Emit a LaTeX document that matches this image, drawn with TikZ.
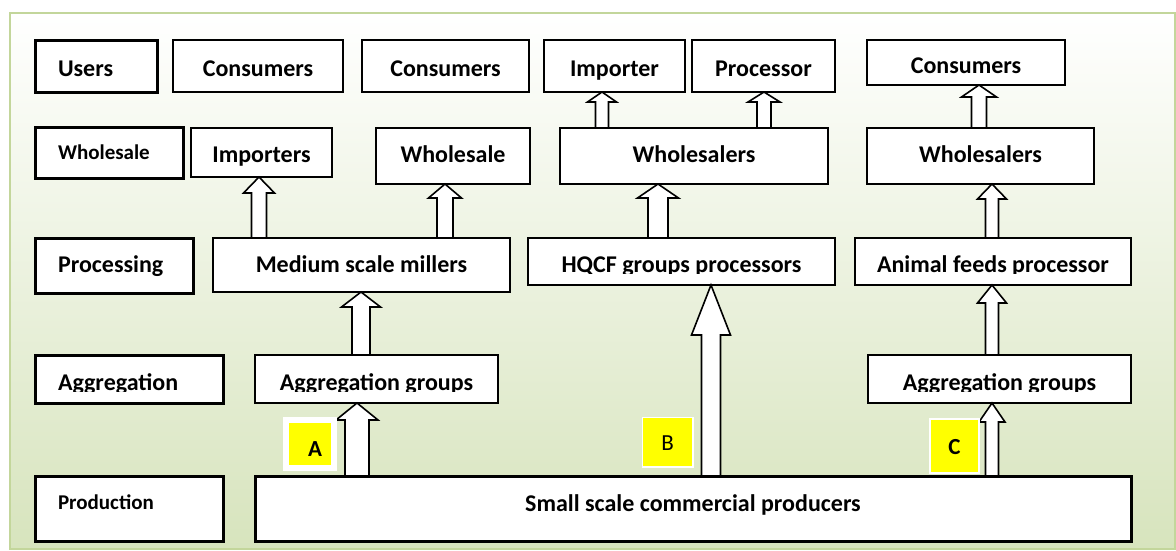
\documentclass[tikz,border=0pt]{standalone}
\usepackage{fontspec}
\setmainfont{Carlito}
\usetikzlibrary{calc}
\definecolor{bggreen}{HTML}{D7E4BD}
\definecolor{framegreen}{HTML}{C3D69B}
\definecolor{marker}{HTML}{FFFF00}

\tikzset{
  box/.style={draw=black, fill=white, line width=1.8pt, inner sep=0pt, outer sep=0pt,
    text depth=0pt, font=\bfseries\fontsize{24}{28}\selectfont},
  tier/.style={box, line width=3pt, inner xsep=23pt, align=left},
  smalltier/.style={tier, font=\bfseries\fontsize{21}{24}\selectfont},
  flow/.style={draw=black, fill=white, line width=1.6pt, line join=miter, miter limit=10},
  letterbox/.style={fill=marker, draw=white, inner sep=0pt, outer sep=0pt,
    text depth=0pt, font=\fontsize{23}{26}\selectfont},
  cut/.style={fill=white}
}

% hollow block arrow: from node, to node, x, half shaft, half head, head length
\newcommand{\flowarrow}[6]{%
  \draw[flow] let \p1=(#1.north -| #3,0), \p2=(#2.south -| #3,0) in
    (\x1-#4pt,\y1) -- (\x1-#4pt,\y2-#6pt) -- (\x1-#5pt,\y2-#6pt) -- (\x2,\y2)
    -- (\x1+#5pt,\y2-#6pt) -- (\x1+#4pt,\y2-#6pt) -- (\x1+#4pt,\y1) -- cycle;
}

\begin{document}
\begin{tikzpicture}[x=1pt, y=-1pt]
  \useasboundingbox (0,0) rectangle (1176,550);

  % background panel
  \draw[draw=framegreen, line width=2.5pt, top color=white, bottom color=bggreen]
    (10,13) rectangle (1175,549);

  % users
  \node[tier, text width=76pt, minimum width=122pt, minimum height=52pt, text height=20pt] (users) at (96,66) {Users};
  \node[box, minimum width=170pt, minimum height=52pt, text height=20pt] (cons1) at (258,66) {Consumers};
  \node[box, minimum width=167pt, minimum height=52pt, text height=20pt] (cons2) at (445.5,66) {Consumers};
  \node[box, minimum width=141pt, minimum height=52pt, text height=20pt] (imp) at (614.5,66) {Importer};
  \node[box, minimum width=143pt, minimum height=52pt, text height=20pt] (proc) at (763.5,66) {Processor};
  \node[box, minimum width=198pt, minimum height=45pt, text height=21pt] (cons3) at (966,62.5) {Consumers};

  % wholesale
  \node[smalltier, text width=102pt, minimum width=148pt, minimum height=51pt, text height=13pt] (whslab) at (109,152.5) {Wholesale};
  \node[box, minimum width=141pt, minimum height=49pt, text height=19pt] (imps) at (261.5,152.5) {Importers};
  \node[box, minimum width=154pt, minimum height=56pt, text height=12pt] (whs) at (453,156) {Wholesale};
  \node[box, minimum width=268pt, minimum height=56pt, text height=12pt] (whsmid) at (694,156) {Wholesalers};
  \node[box, minimum width=227pt, minimum height=56pt, text height=12pt] (whsr) at (980.5,156) {Wholesalers};

  % processing
  \node[tier, text width=112pt, minimum width=158pt, minimum height=55pt, text height=13pt] (proclab) at (114,265.5) {Processing};
  \node[box, minimum width=297pt, minimum height=54pt, text height=14pt] (mill) at (361.5,265) {Medium scale millers};
  \node[box, minimum width=307pt, minimum height=47pt, text height=21pt] (hqcf) at (681.5,261.5) {HQCF groups processors};
  \node[box, minimum width=276pt, minimum height=47pt, text height=21pt] (feed) at (993,261.5) {Animal feeds processor};

  % aggregation
  \node[tier, text width=142pt, minimum width=188pt, minimum height=48pt, text height=22pt] (agglab) at (129,379) {Aggregation};
  \node[box, minimum width=243pt, minimum height=48pt, text height=22pt] (aggl) at (376.5,379) {Aggregation groups};
  \node[box, minimum width=263pt, minimum height=48pt, text height=22pt] (aggr) at (999.5,379) {Aggregation groups};

  % production
  \node[smalltier, text width=142pt, minimum width=188pt, minimum height=65pt, text height=1pt] (prodlab) at (129,508.5) {Production};
  \node[box, line width=3pt, minimum width=876pt, minimum height=65pt, text height=5pt] (prod) at (693,508.5) {Small scale commercial producers};

  % descenders cut off at the foot of the text area
  \foreach \n in {agglab, aggl, aggr, hqcf, feed}
    \fill[cut] ($(\n.south west)+(2,-2)$) rectangle ($(\n.south east)+(-2,-11)$);

  % flows
  \flowarrow{prod}{aggl}{357}{12}{21}{17}
  \flowarrow{aggl}{mill}{361}{9}{19.5}{15}
  \flowarrow{mill}{imps}{259}{7.5}{15.5}{16}
  \flowarrow{mill}{whs}{445}{8}{16.5}{14}
  \flowarrow{prod}{hqcf}{711}{9.5}{19.5}{50}
  \flowarrow{hqcf}{whsmid}{658}{10}{20.5}{14}
  \flowarrow{whsmid}{imp}{602}{6.5}{14.5}{10}
  \flowarrow{whsmid}{proc}{764}{7}{16}{10}
  \flowarrow{whsr}{cons3}{979}{7.5}{17.5}{12}
  \flowarrow{feed}{whsr}{992}{6.5}{14.5}{15}
  \flowarrow{aggr}{feed}{992}{6.5}{14.5}{18}
  \flowarrow{prod}{aggr}{992}{6.5}{13}{19}

  % chain markers
  \node[letterbox, line width=6pt, minimum size=48pt, text height=24pt] (tagA) at (310,444) {\hspace*{10pt}\textbf{A}};
  \node[letterbox, line width=1.5pt, minimum width=50.5pt, minimum height=49.5pt, text height=16pt] (tagB) at (667.5,442) {B};
  \node[letterbox, line width=2pt, minimum width=49pt, minimum height=54pt, text height=16pt] (tagC) at (954.5,446) {\textbf{C}};
\end{tikzpicture}
\end{document}
